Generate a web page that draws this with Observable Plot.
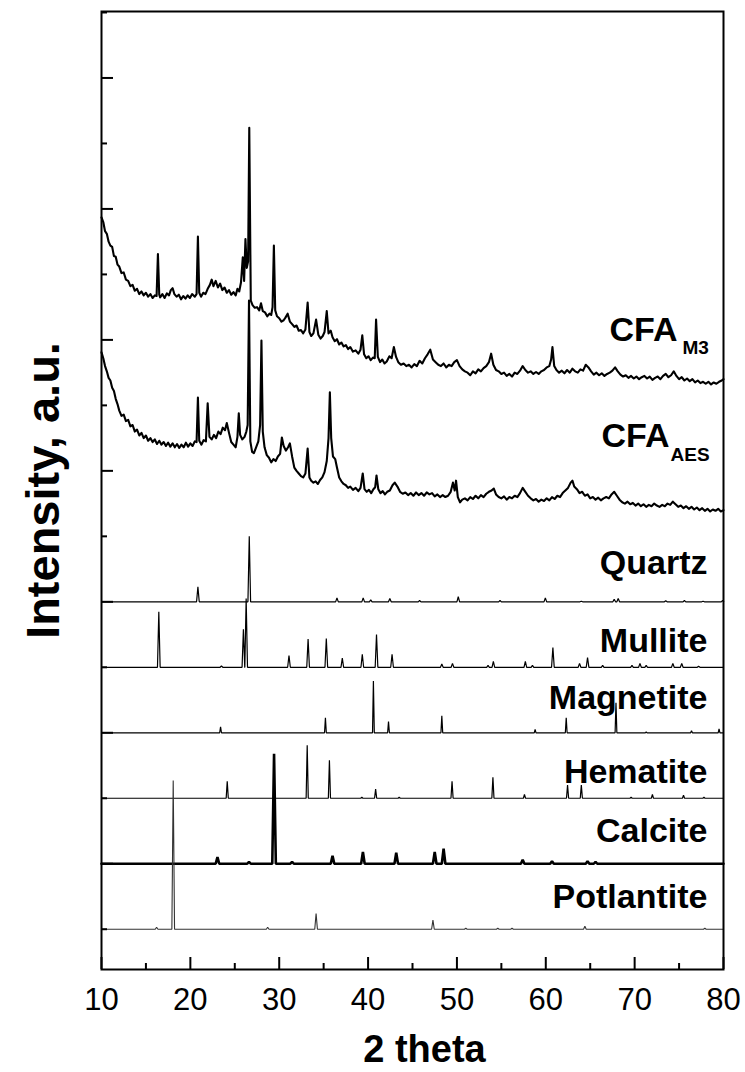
<!DOCTYPE html>
<html><head><meta charset="utf-8">
<script src="https://cdn.jsdelivr.net/npm/d3@7"></script>
<script src="https://cdn.jsdelivr.net/npm/@observablehq/plot@0.6"></script>
<style>body{margin:0;background:#fff} svg{display:block}</style>
</head><body><div id="chart"></div>
<script>
// ---- axes ----
const xTicks = [10, 20, 30, 40, 50, 60, 70, 80];
const xMinorTicks = [15, 25, 35, 45, 55, 65, 75];
const yMajorTicks = [2, 4, 6, 8, 10, 12, 14];
const yMinorTicks = [1, 3, 5, 7, 9, 11, 13, 15];

// ---- reference patterns: [2theta, relative intensity] ----
const patternNames = ["Quartz", "Mullite", "Magnetite", "Hematite", "Calcite", "Potlantite"];
const patternBaselines = [6, 5, 4, 3, 2, 1];
const peakHalfWidths = [0.15, 0.15, 0.1, 0.12, 0.2, 0.15];
const quartzPeaks = [[20.85,0.23],[26.63,1.0],[36.5,0.06],[39.45,0.06],[40.3,0.03],[42.45,0.05],[45.8,0.02],[50.15,0.08],[54.85,0.02],[59.95,0.06],[64.0,0.01],[67.7,0.04],[68.15,0.05],[73.5,0.015],[75.6,0.02],[77.7,0.01],[79.9,0.02]];
const mullitePeaks = [[16.45,0.85],[23.5,0.02],[25.97,0.58],[26.28,1.05],[31.1,0.18],[33.25,0.43],[35.3,0.44],[37.1,0.14],[39.35,0.2],[40.95,0.5],[42.7,0.2],[48.3,0.05],[49.5,0.06],[53.5,0.03],[54.1,0.09],[57.7,0.09],[58.5,0.03],[60.8,0.3],[63.8,0.06],[64.7,0.15],[66.4,0.03],[69.7,0.03],[70.6,0.06],[71.3,0.03],[74.3,0.06],[75.3,0.06],[77.2,0.015]];
const magnetitePeaks = [[23.4,0.09],[35.2,0.23],[40.6,0.79],[42.3,0.17],[48.3,0.26],[58.8,0.05],[62.3,0.23],[67.9,0.46],[71.3,0.015],[76.4,0.03],[79.5,0.06]];
const hematitePeaks = [[24.15,0.26],[33.15,0.81],[35.65,0.58],[39.3,0.015],[40.85,0.14],[43.5,0.015],[49.45,0.26],[54.05,0.32],[57.6,0.06],[62.45,0.2],[64.0,0.2],[69.6,0.015],[72.0,0.06],[75.5,0.045],[77.8,0.015]];
const calcitePeaks = [[23.05,0.1],[26.6,0.03],[29.42,1.68],[31.45,0.03],[36.0,0.12],[39.42,0.18],[43.17,0.17],[47.5,0.18],[48.5,0.23],[57.4,0.06],[60.7,0.04],[64.7,0.04],[65.6,0.03]];
const potlantitePeaks = [[16.2,0.03],[18.07,2.27],[28.7,0.03],[34.15,0.24],[47.3,0.14],[51.0,0.015],[54.6,0.015],[56.2,0.015],[64.4,0.045],[77.9,0.015]];
const patternPeaks = [quartzPeaks, mullitePeaks, magnetitePeaks, hematitePeaks, calcitePeaks, potlantitePeaks];

// ---- measured samples (stacked intensity, a.u.) ----
const cfaM3 = [[10.0,11.87],[10.2,11.80],[10.4,11.66],[10.6,11.62],[10.8,11.50],[11.0,11.44],[11.2,11.42],[11.4,11.28],[11.6,11.27],[11.8,11.15],[12.0,11.12],[12.25,11.02],[12.5,11.03],[12.75,10.92],[13.0,10.90],[13.25,10.82],[13.5,10.84],[13.75,10.75],[14.0,10.78],[14.25,10.70],[14.5,10.74],[14.75,10.68],[15.0,10.72],[15.25,10.66],[15.5,10.70],[15.75,10.64],[16.0,10.68],[16.2,10.67],[16.35,11.31],[16.5,10.69],[16.6,10.65],[16.85,10.70],[17.1,10.64],[17.35,10.71],[17.6,10.68],[17.8,10.76],[18.0,10.79],[18.2,10.70],[18.45,10.66],[18.7,10.69],[18.95,10.62],[19.2,10.67],[19.45,10.63],[19.7,10.68],[19.95,10.64],[20.2,10.70],[20.5,10.66],[20.7,10.70],[20.85,11.58],[21.0,10.72],[21.2,10.66],[21.45,10.72],[21.7,10.70],[21.95,10.78],[22.2,10.84],[22.4,10.92],[22.6,10.82],[22.85,10.90],[23.1,10.80],[23.35,10.86],[23.6,10.76],[23.85,10.80],[24.1,10.72],[24.35,10.76],[24.6,10.69],[24.85,10.73],[25.1,10.68],[25.3,10.78],[25.5,10.74],[25.7,10.88],[25.9,11.26],[26.05,10.90],[26.2,11.54],[26.35,11.10],[26.5,11.20],[26.63,13.24],[26.8,10.60],[27.0,10.53],[27.25,10.49],[27.5,10.50],[27.75,10.45],[27.95,10.56],[28.15,10.44],[28.4,10.42],[28.65,10.36],[28.9,10.40],[29.1,10.38],[29.25,10.50],[29.4,11.44],[29.55,10.45],[29.75,10.36],[30.0,10.33],[30.25,10.28],[30.5,10.30],[30.7,10.34],[30.95,10.40],[31.2,10.28],[31.45,10.24],[31.7,10.20],[31.95,10.22],[32.2,10.14],[32.45,10.15],[32.7,10.10],[32.95,10.16],[33.2,10.57],[33.4,10.12],[33.6,10.06],[33.85,10.10],[34.15,10.31],[34.4,10.08],[34.65,10.02],[34.9,10.06],[35.1,10.12],[35.35,10.44],[35.55,10.10],[35.8,10.14],[36.0,10.04],[36.25,9.98],[36.5,10.01],[36.75,9.93],[37.0,9.96],[37.25,9.90],[37.5,9.92],[37.75,9.86],[38.0,9.89],[38.3,9.82],[38.6,9.84],[38.9,9.79],[39.15,9.85],[39.35,10.07],[39.55,9.78],[39.8,9.72],[40.05,9.75],[40.3,9.69],[40.55,9.73],[40.75,9.72],[40.9,10.31],[41.1,9.74],[41.35,9.66],[41.6,9.70],[41.85,9.64],[42.1,9.67],[42.4,9.75],[42.65,9.72],[42.9,9.89],[43.15,9.74],[43.4,9.66],[43.7,9.62],[44.0,9.64],[44.3,9.60],[44.6,9.62],[44.9,9.58],[45.2,9.63],[45.5,9.60],[45.8,9.68],[46.1,9.64],[46.4,9.72],[46.7,9.78],[47.0,9.85],[47.3,9.70],[47.6,9.66],[47.9,9.62],[48.2,9.60],[48.5,9.64],[48.8,9.58],[49.1,9.62],[49.4,9.60],[49.7,9.66],[50.0,9.69],[50.3,9.60],[50.6,9.55],[50.9,9.52],[51.2,9.50],[51.5,9.46],[51.8,9.52],[52.1,9.49],[52.4,9.55],[52.7,9.52],[53.0,9.57],[53.3,9.60],[53.6,9.66],[53.85,9.79],[54.1,9.62],[54.4,9.54],[54.7,9.52],[55.0,9.48],[55.3,9.50],[55.6,9.45],[55.9,9.48],[56.2,9.44],[56.5,9.50],[56.8,9.48],[57.1,9.53],[57.4,9.60],[57.7,9.54],[58.0,9.50],[58.3,9.52],[58.6,9.48],[58.9,9.51],[59.2,9.48],[59.5,9.52],[59.8,9.54],[60.1,9.58],[60.4,9.60],[60.6,9.70],[60.75,9.89],[60.95,9.60],[61.2,9.54],[61.5,9.50],[61.8,9.53],[62.1,9.49],[62.4,9.54],[62.7,9.50],[63.0,9.56],[63.3,9.52],[63.6,9.50],[63.9,9.55],[64.2,9.53],[64.5,9.62],[64.8,9.58],[65.1,9.52],[65.4,9.47],[65.7,9.50],[66.0,9.46],[66.3,9.49],[66.6,9.45],[66.9,9.48],[67.2,9.50],[67.5,9.53],[67.8,9.58],[68.1,9.52],[68.4,9.47],[68.7,9.44],[69.0,9.46],[69.3,9.42],[69.6,9.45],[69.9,9.41],[70.2,9.44],[70.5,9.40],[70.8,9.43],[71.1,9.45],[71.4,9.41],[71.7,9.44],[72.0,9.39],[72.3,9.42],[72.6,9.44],[72.9,9.40],[73.2,9.45],[73.5,9.48],[73.8,9.43],[74.1,9.46],[74.4,9.52],[74.7,9.45],[75.0,9.40],[75.3,9.43],[75.6,9.38],[75.9,9.41],[76.2,9.37],[76.5,9.40],[76.8,9.35],[77.1,9.38],[77.4,9.34],[77.7,9.36],[78.0,9.33],[78.3,9.36],[78.6,9.32],[78.9,9.35],[79.2,9.33],[79.5,9.36],[79.8,9.38],[80.0,9.40]];
const cfaAES = [[10.0,9.81],[10.2,9.72],[10.4,9.60],[10.6,9.52],[10.8,9.42],[11.0,9.38],[11.2,9.27],[11.4,9.22],[11.6,9.10],[11.8,9.02],[12.0,8.92],[12.25,8.84],[12.5,8.86],[12.75,8.76],[13.0,8.78],[13.25,8.68],[13.5,8.70],[13.75,8.60],[14.0,8.63],[14.25,8.54],[14.5,8.58],[14.75,8.50],[15.0,8.54],[15.25,8.46],[15.5,8.50],[15.75,8.44],[16.0,8.48],[16.25,8.41],[16.5,8.46],[16.75,8.40],[17.0,8.44],[17.25,8.38],[17.5,8.43],[17.75,8.37],[18.0,8.42],[18.25,8.36],[18.5,8.41],[18.75,8.35],[19.0,8.40],[19.25,8.36],[19.5,8.43],[19.75,8.37],[20.0,8.42],[20.25,8.38],[20.5,8.45],[20.7,8.44],[20.85,9.12],[21.0,8.46],[21.25,8.40],[21.5,8.47],[21.75,8.45],[21.95,9.03],[22.15,8.52],[22.4,8.48],[22.65,8.55],[22.9,8.50],[23.15,8.60],[23.4,8.56],[23.65,8.66],[23.9,8.62],[24.1,8.73],[24.35,8.58],[24.6,8.44],[24.85,8.40],[25.1,8.36],[25.3,8.52],[25.45,8.88],[25.6,8.55],[25.85,8.48],[26.1,8.52],[26.3,8.60],[26.45,8.70],[26.6,10.60],[26.75,8.45],[26.95,8.29],[27.15,8.27],[27.4,8.36],[27.65,8.45],[27.85,8.70],[28.0,9.99],[28.15,8.60],[28.35,8.36],[28.6,8.24],[28.85,8.20],[29.1,8.13],[29.35,8.18],[29.6,8.15],[29.85,8.22],[30.1,8.26],[30.3,8.51],[30.5,8.38],[30.75,8.31],[31.0,8.36],[31.2,8.42],[31.45,8.22],[31.7,8.05],[31.95,8.00],[32.2,7.96],[32.45,7.92],[32.7,7.90],[32.95,7.96],[33.2,8.34],[33.4,7.90],[33.6,7.85],[33.85,7.82],[34.1,7.84],[34.35,7.80],[34.6,7.86],[34.85,7.90],[35.1,7.98],[35.35,8.15],[35.55,8.50],[35.7,9.20],[35.85,8.50],[36.05,8.22],[36.3,8.18],[36.5,8.05],[36.75,7.90],[37.0,7.84],[37.25,7.80],[37.5,7.78],[37.75,7.74],[38.0,7.76],[38.3,7.71],[38.6,7.74],[38.9,7.69],[39.15,7.74],[39.4,7.96],[39.6,7.72],[39.85,7.68],[40.1,7.71],[40.35,7.66],[40.6,7.72],[40.8,7.75],[40.95,7.93],[41.15,7.72],[41.4,7.66],[41.65,7.69],[41.9,7.64],[42.15,7.68],[42.45,7.70],[42.75,7.78],[43.0,7.82],[43.3,7.76],[43.6,7.68],[43.9,7.65],[44.2,7.67],[44.5,7.63],[44.8,7.66],[45.1,7.62],[45.4,7.67],[45.7,7.63],[46.0,7.66],[46.3,7.62],[46.6,7.67],[46.9,7.64],[47.2,7.66],[47.5,7.61],[47.8,7.64],[48.1,7.60],[48.4,7.63],[48.7,7.60],[49.0,7.62],[49.3,7.68],[49.55,7.82],[49.75,7.70],[49.9,7.85],[50.1,7.60],[50.35,7.52],[50.6,7.56],[50.9,7.58],[51.2,7.55],[51.5,7.60],[51.8,7.57],[52.1,7.62],[52.4,7.58],[52.7,7.63],[53.0,7.60],[53.3,7.65],[53.6,7.68],[53.9,7.70],[54.15,7.73],[54.4,7.64],[54.7,7.60],[55.0,7.58],[55.3,7.61],[55.6,7.56],[55.9,7.60],[56.2,7.58],[56.5,7.62],[56.8,7.60],[57.1,7.66],[57.4,7.74],[57.7,7.68],[58.0,7.62],[58.3,7.58],[58.6,7.55],[58.9,7.57],[59.2,7.53],[59.5,7.56],[59.8,7.54],[60.1,7.58],[60.4,7.55],[60.7,7.60],[61.0,7.57],[61.3,7.62],[61.6,7.60],[61.9,7.66],[62.2,7.70],[62.5,7.74],[62.8,7.82],[63.0,7.85],[63.2,7.76],[63.5,7.72],[63.8,7.66],[64.1,7.68],[64.4,7.62],[64.7,7.64],[65.0,7.58],[65.3,7.60],[65.6,7.56],[65.9,7.59],[66.2,7.55],[66.5,7.58],[66.8,7.60],[67.1,7.58],[67.4,7.64],[67.7,7.68],[68.0,7.62],[68.3,7.56],[68.6,7.52],[68.9,7.50],[69.2,7.53],[69.5,7.49],[69.8,7.51],[70.1,7.47],[70.4,7.50],[70.7,7.46],[71.0,7.49],[71.3,7.45],[71.6,7.48],[71.9,7.46],[72.2,7.50],[72.5,7.47],[72.8,7.45],[73.1,7.48],[73.4,7.46],[73.7,7.50],[74.0,7.48],[74.3,7.53],[74.6,7.49],[74.9,7.45],[75.2,7.47],[75.5,7.43],[75.8,7.46],[76.1,7.42],[76.4,7.45],[76.7,7.41],[77.0,7.44],[77.3,7.40],[77.6,7.43],[77.9,7.39],[78.2,7.42],[78.5,7.38],[78.8,7.41],[79.1,7.39],[79.4,7.42],[79.7,7.38],[80.0,7.40]];

// ---- layout (not data) ----
const W = 745, H = 1072, ML = 101, MR = 22, MT = 11, MB = 103;
const PW = W - ML - MR, PH = H - MT - MB;
const FONT = "'Liberation Sans', Arial, Helvetica, sans-serif";
const patternStroke = [1.2, 1.2, 1.2, 1.2, 2.6, 1.1];
const patternColor = ["black", "black", "black", "black", "black", "#333"];
const patternLabelY = [6.42, 5.23, 4.36, 3.24, 2.33, 1.32];

// stick-pattern line: baseline -> each peak (base, apex, base) -> baseline
function patternLine(peaks, base, w) {
  const pts = [[10, base]];
  for (const [p, h] of peaks) pts.push([p - w, base], [p, base + h], [p + w, base]);
  pts.push([80, base]);
  return pts;
}

const marks = [];
patternNames.forEach((name, i) => {
  marks.push(Plot.line(patternLine(patternPeaks[i], patternBaselines[i], peakHalfWidths[i]),
    {x: d => d[0], y: d => d[1], stroke: patternColor[i], strokeWidth: patternStroke[i], strokeLinejoin: "miter"}));
});
marks.push(Plot.line(cfaM3, {x: d => d[0], y: d => d[1], stroke: "black", strokeWidth: 2.1}));
marks.push(Plot.line(cfaAES, {x: d => d[0], y: d => d[1], stroke: "black", strokeWidth: 2.1}));

// inward ticks
marks.push(Plot.tickX(xTicks, {x: d => d, insetTop: PH - 12, strokeWidth: 2}));
marks.push(Plot.tickX(xMinorTicks, {x: d => d, insetTop: PH - 6, strokeWidth: 2}));
marks.push(Plot.tickY(yMajorTicks, {y: d => d, insetRight: PW - 12, strokeWidth: 2}));
marks.push(Plot.tickY(yMinorTicks, {y: d => d, insetRight: PW - 6, strokeWidth: 2}));
marks.push(Plot.axisX({ticks: xTicks, tickSize: 0, tickPadding: 18, fontSize: 31, label: null, tickFormat: d => String(d)}));
marks.push(Plot.frame({stroke: "black", strokeWidth: 2}));

// pattern labels
marks.push(Plot.text(patternNames, {x: 80, y: (d, i) => patternLabelY[i], text: d => d, textAnchor: "end", lineAnchor: "bottom", dx: -16, fontSize: 34, fontWeight: "bold"}));
// CFA labels with subscripts
marks.push(Plot.text(["CFA"], {x: 80, y: 9.99, text: d => d, textAnchor: "end", lineAnchor: "bottom", dx: -46, fontSize: 34, fontWeight: "bold"}));
marks.push(Plot.text(["M3"], {x: 80, y: 9.99, text: d => d, textAnchor: "start", lineAnchor: "bottom", dx: -41, dy: 13, fontSize: 19, fontWeight: "bold"}));
marks.push(Plot.text(["CFA"], {x: 80, y: 8.36, text: d => d, textAnchor: "end", lineAnchor: "bottom", dx: -54, fontSize: 34, fontWeight: "bold"}));
marks.push(Plot.text(["AES"], {x: 80, y: 8.36, text: d => d, textAnchor: "start", lineAnchor: "bottom", dx: -53, dy: 14, fontSize: 19, fontWeight: "bold"}));
// axis titles
marks.push(Plot.text(["2 theta"], {frameAnchor: "bottom", text: d => d, lineAnchor: "bottom", dy: 92, dx: 12, fontSize: 38, fontWeight: "bold"}));
marks.push(Plot.text(["Intensity, a.u."], {frameAnchor: "left", text: d => d, rotate: -90, textAnchor: "middle", lineAnchor: "middle", dx: -58, fontSize: 47, fontWeight: "bold"}));

const chart = Plot.plot({
  width: W, height: H,
  marginLeft: ML, marginRight: MR, marginTop: MT, marginBottom: MB,
  style: {fontFamily: FONT, color: "black", background: "white", fontSize: "31px"},
  x: {domain: [10, 80], axis: null},
  y: {domain: [0.385, 15.015], axis: null},
  marks
});
document.getElementById("chart").appendChild(chart);
</script>
</body></html>
